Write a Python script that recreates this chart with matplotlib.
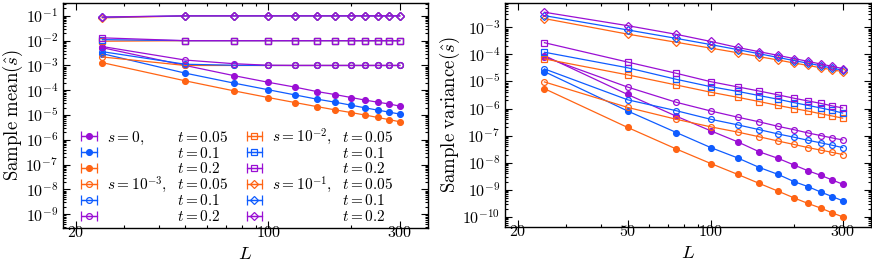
import numpy as np
import matplotlib
matplotlib.use("Agg")
import matplotlib.pyplot as plt
from matplotlib import ticker as mticker
from matplotlib.transforms import IdentityTransform

plt.rcParams["mathtext.fontset"] = "cm"
plt.rcParams["font.family"] = "serif"
plt.rcParams["font.serif"] = ["DejaVu Serif"]

PURPLE = "#9a0fd4"
BLUE = "#0f5cff"
ORANGE = "#ff6414"

L = [25, 50, 75, 100, 125, 150, 175, 200, 225, 250, 275, 300]

# sample mean, s = 0 (filled circles)
mean_s0_t005 = [5.2e-3, 1.0e-3, 3.9e-4, 2.1e-4, 1.34e-4, 8.9e-5, 6.7e-5, 5.1e-5, 4.0e-5, 3.3e-5, 2.8e-5, 2.3e-5]
mean_s0_t01 = [3.0e-3, 4.9e-4, 1.95e-4, 1.05e-4, 6.5e-5, 4.4e-5, 3.3e-5, 2.5e-5, 1.95e-5, 1.58e-5, 1.31e-5, 1.1e-5]
mean_s0_t02 = [1.3e-3, 2.4e-4, 9.5e-5, 5.1e-5, 3.2e-5, 2.2e-5, 1.62e-5, 1.26e-5, 1.0e-5, 8.0e-6, 6.5e-6, 5.4e-6]
# s = 1e-3 (open circles)
mean_s3_t005 = [2.2e-3, 1.0e-3, 1.0e-3, 1.0e-3, 1.0e-3, 1.0e-3, 1.0e-3, 1.0e-3, 1.0e-3, 1.0e-3, 1.0e-3, 1.0e-3]
mean_s3_t01 = [3.6e-3, 1.12e-3, 1.02e-3, 1.0e-3, 1.0e-3, 1.0e-3, 1.0e-3, 1.0e-3, 1.0e-3, 1.0e-3, 1.0e-3, 1.0e-3]
mean_s3_t02 = [5.8e-3, 1.65e-3, 1.18e-3, 1.02e-3, 1.0e-3, 1.0e-3, 1.0e-3, 1.0e-3, 1.0e-3, 1.0e-3, 1.0e-3, 1.0e-3]
# s = 1e-2 (squares)
mean_s2_t005 = [9.5e-3, 1.0e-2, 1.0e-2, 1.0e-2, 1.0e-2, 1.0e-2, 1.0e-2, 1.0e-2, 1.0e-2, 1.0e-2, 1.0e-2, 1.0e-2]
mean_s2_t01 = [1.1e-2, 1.0e-2, 1.0e-2, 1.0e-2, 1.0e-2, 1.0e-2, 1.0e-2, 1.0e-2, 1.0e-2, 1.0e-2, 1.0e-2, 1.0e-2]
mean_s2_t02 = [1.3e-2, 1.0e-2, 1.0e-2, 1.0e-2, 1.0e-2, 1.0e-2, 1.0e-2, 1.0e-2, 1.0e-2, 1.0e-2, 1.0e-2, 1.0e-2]
# s = 1e-1 (diamonds)
mean_s1_t005 = [8.3e-2, 0.099, 0.1, 0.1, 0.1, 0.1, 0.1, 0.1, 0.1, 0.1, 0.1, 0.1]
mean_s1_t01 = [8.8e-2, 0.1, 0.1, 0.1, 0.1, 0.1, 0.1, 0.1, 0.1, 0.1, 0.1, 0.1]
mean_s1_t02 = [9.0e-2, 0.1, 0.1, 0.1, 0.1, 0.1, 0.1, 0.1, 0.1, 0.1, 0.1, 0.1]

# sample variance
var_s0_t005 = [9.0e-5, 3.3e-6, 5.2e-7, 1.5e-7, 5.9e-8, 2.5e-8, 1.45e-8, 8.2e-9, 5.0e-9, 3.4e-9, 2.3e-9, 1.6e-9]
var_s0_t01 = [2.3e-5, 8.1e-7, 1.3e-7, 3.6e-8, 1.5e-8, 6.6e-9, 3.7e-9, 2.0e-9, 1.3e-9, 8.2e-10, 5.6e-10, 3.9e-10]
var_s0_t02 = [5.4e-6, 2.0e-7, 3.2e-8, 9.3e-9, 3.7e-9, 1.7e-9, 8.9e-10, 5.0e-10, 3.1e-10, 2.1e-10, 1.4e-10, 1.0e-10]
var_s3_t005 = [9.6e-6, 1.1e-6, 4.0e-7, 2.1e-7, 1.35e-7, 9.0e-8, 6.3e-8, 4.7e-8, 3.6e-8, 2.9e-8, 2.4e-8, 2.0e-8]
var_s3_t01 = [2.9e-5, 2.1e-6, 8.3e-7, 4.0e-7, 2.5e-7, 1.65e-7, 1.15e-7, 8.7e-8, 6.7e-8, 5.4e-8, 4.4e-8, 3.6e-8]
var_s3_t02 = [8.0e-5, 6.2e-6, 1.7e-6, 8.1e-7, 4.8e-7, 3.2e-7, 2.2e-7, 1.65e-7, 1.25e-7, 1.0e-7, 8.2e-8, 6.9e-8]
var_s2_t005 = [6.8e-5, 1.75e-5, 7.4e-6, 4.0e-6, 2.6e-6, 1.8e-6, 1.3e-6, 1.0e-6, 8.0e-7, 6.4e-7, 5.3e-7, 4.4e-7]
var_s2_t01 = [1.2e-4, 3.2e-5, 1.2e-5, 6.4e-6, 4.3e-6, 3.0e-6, 2.2e-6, 1.65e-6, 1.3e-6, 1.05e-6, 8.5e-7, 6.8e-7]
var_s2_t02 = [2.7e-4, 5.2e-5, 2.0e-5, 9.8e-6, 6.3e-6, 4.4e-6, 3.2e-6, 2.4e-6, 1.9e-6, 1.55e-6, 1.25e-6, 1.05e-6]
var_s1_t005 = [2.1e-3, 5.6e-4, 2.8e-4, 1.7e-4, 1.15e-4, 8.2e-5, 6.2e-5, 4.8e-5, 3.9e-5, 3.2e-5, 2.7e-5, 2.3e-5]
var_s1_t01 = [2.7e-3, 8.0e-4, 3.9e-4, 2.3e-4, 1.5e-4, 1.05e-4, 7.7e-5, 5.9e-5, 4.7e-5, 3.8e-5, 3.1e-5, 2.6e-5]
var_s1_t02 = [3.6e-3, 1.15e-3, 5.5e-4, 3.0e-4, 1.8e-4, 1.25e-4, 9.2e-5, 7.0e-5, 5.5e-5, 4.4e-5, 3.6e-5, 3.0e-5]

s_labels = [r"$s=0,$", r"$s=10^{-3},$", r"$s=10^{-2},$", r"$s=10^{-1},$"]
t_labels = [r"$t=0.05$", r"$t=0.1$", r"$t=0.2$"]

# (marker, filled, colours for t=0.05, 0.1, 0.2)
styles = [
    ("o", True, [PURPLE, BLUE, ORANGE]),
    ("o", False, [ORANGE, BLUE, PURPLE]),
    ("s", False, [ORANGE, BLUE, PURPLE]),
    ("D", False, [ORANGE, BLUE, PURPLE]),
]

mean_data = [
    [mean_s0_t005, mean_s0_t01, mean_s0_t02],
    [mean_s3_t005, mean_s3_t01, mean_s3_t02],
    [mean_s2_t005, mean_s2_t01, mean_s2_t02],
    [mean_s1_t005, mean_s1_t01, mean_s1_t02],
]
var_data = [
    [var_s0_t005, var_s0_t01, var_s0_t02],
    [var_s3_t005, var_s3_t01, var_s3_t02],
    [var_s2_t005, var_s2_t01, var_s2_t02],
    [var_s1_t005, var_s1_t01, var_s1_t02],
]


def draw(ax, data):
    conts = []
    for (marker, filled, cols), group in zip(styles, data):
        for col, y in zip(cols, group):
            ms = 3.6 if marker == "D" else 4.2
            c = ax.errorbar(L, y, xerr=0, fmt="-", marker=marker, color=col, ms=ms,
                            mfc=col if filled else "none", mec=col, mew=0.9, lw=0.9,
                            elinewidth=0.9, capsize=3.5, capthick=0.9)
            conts.append(c)
    return conts


def style_axis(ax, xticks, ylim):
    ax.set_xscale("log")
    ax.set_yscale("log")
    ax.set_xlim(18, 380)
    ax.set_ylim(*ylim)
    ax.xaxis.set_major_locator(mticker.FixedLocator(xticks))
    ax.xaxis.set_major_formatter(mticker.FixedFormatter([r"$%d$" % v for v in xticks]))
    ax.xaxis.set_minor_locator(mticker.LogLocator(base=10, subs=np.arange(2, 10), numticks=20))
    ax.xaxis.set_minor_formatter(mticker.NullFormatter())
    ax.yaxis.set_major_locator(mticker.LogLocator(base=10, numticks=30))
    ax.yaxis.set_major_formatter(mticker.FuncFormatter(lambda v, p: r"$10^{%d}$" % round(np.log10(v))))
    ax.yaxis.set_minor_locator(mticker.LogLocator(base=10, subs=np.arange(2, 10), numticks=30))
    ax.yaxis.set_minor_formatter(mticker.NullFormatter())
    ax.tick_params(which="both", direction="in", top=True, right=True, width=0.8, labelsize=11.5)
    ax.tick_params(which="major", length=5)
    ax.tick_params(which="minor", length=2.5)
    ax.tick_params(axis="x", pad=-2.8)
    for sp in ax.spines.values():
        sp.set_linewidth(1.0)
    ax.set_xlabel(r"$L$", fontsize=13.5, labelpad=2.5)


fig = plt.figure(figsize=(8.72, 2.6), dpi=100)
ax1 = fig.add_axes([63 / 872, 32 / 260, 365 / 872, 225 / 260])
ax2 = fig.add_axes([505 / 872, 33 / 260, 366 / 872, 224 / 260])

c1 = draw(ax1, mean_data)
c2 = draw(ax2, var_data)

style_axis(ax1, [20, 100, 300], (2.8e-10, 0.33))
style_axis(ax2, [20, 50, 100, 300], (4.2e-11, 7.9e-3))
ax1.set_ylabel(r"$\mathrm{Sample\ mean}(\hat{s})$", fontsize=13.5, labelpad=0)
ax2.set_ylabel(r"$\mathrm{Sample\ variance}(\hat{s})$", fontsize=13.5, labelpad=0)

# legend: two columns of (handle, t label); the s labels are put in front of the t labels
handles = c1
labels = [t_labels[k] for g in range(4) for k in range(3)]
fs = 11
em = fs * fig.dpi / 72
leg = ax1.legend(handles, labels, ncol=2, loc="lower left", bbox_to_anchor=(0.051, 0.018),
                 frameon=False, fontsize=fs, handlelength=15 / em, handletextpad=80 / em,
                 columnspacing=19 / em, labelspacing=0.055, borderpad=0, borderaxespad=0)

# hide the zero-length caps inside the plot (legend keeps its own copies)
for c in c1 + c2:
    for cap in c[1]:
        cap.set_visible(False)

fig.canvas.draw()
texts = leg.get_texts()
for g in range(4):
    t = texts[3 * g]
    x, y = t.get_transform().transform(t.get_position())
    fig.text(x - 70, y, s_labels[g], transform=IdentityTransform(),
             fontsize=fs, ha="left", va="baseline")

fig.savefig("out.png", dpi=100)
